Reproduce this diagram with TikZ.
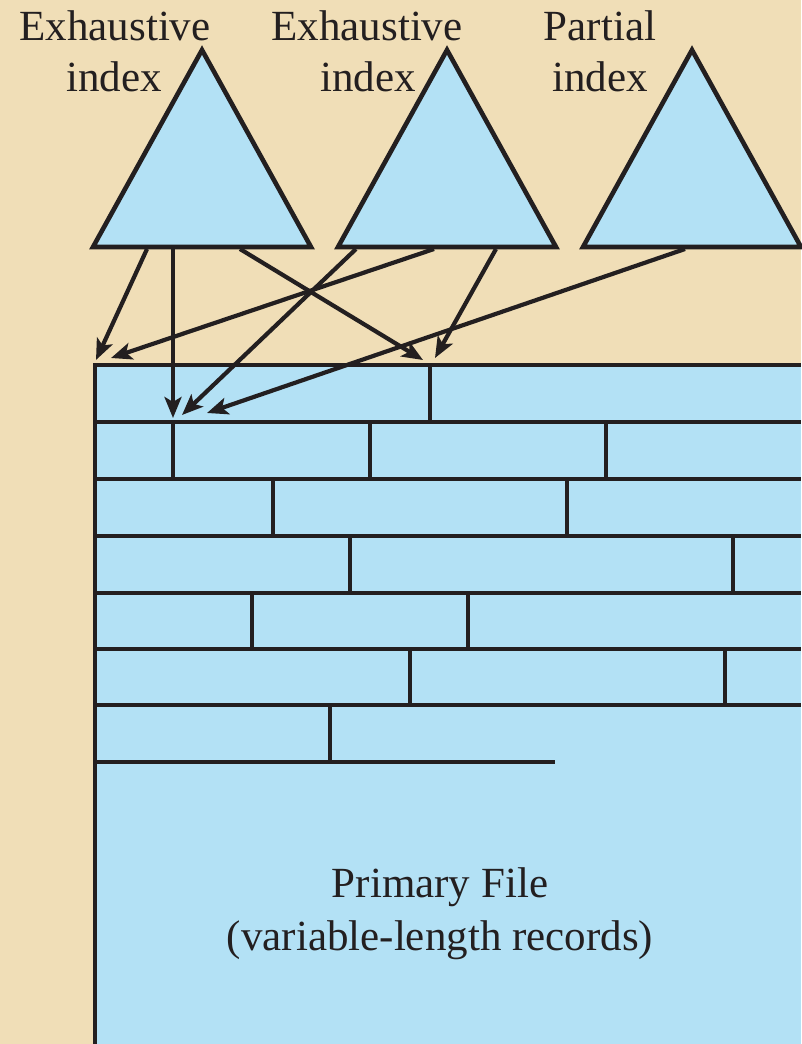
\documentclass[tikz,border=0pt]{standalone}
\usepackage{fontspec}
\setmainfont{Liberation Serif}
\newfontfamily\timesfont{Liberation Serif}
\usetikzlibrary{arrows.meta}
\definecolor{bgbeige}{HTML}{F0DEB7}
\definecolor{fileblue}{HTML}{B3E1F5}
\definecolor{inkdark}{HTML}{231F20}
\tikzset{
  ink/.style={draw=inkdark, line width=4.6pt},
  tri/.style={ink, fill=fileblue, line join=miter},
  rec/.style={ink, line cap=butt},
  ptr/.style={draw=inkdark, line width=4.2pt, -{Stealth[length=21pt,width=17pt,inset=5pt]}},
  lbl/.style={anchor=base, inner sep=0pt, text=inkdark, font=\timesfont\fontsize{43}{52}\selectfont}
}
\begin{document}
\begin{tikzpicture}[x=1pt,y=-1pt]
\useasboundingbox (0,0) rectangle (801,1044);
\fill[bgbeige] (0,0) rectangle (801,1044);

% labels
\node[lbl] (l1a) at (115,40) {Exhaustive};
\node[lbl] (l1b) at (114,91) {index};
\node[lbl] (l2a) at (367,40) {Exhaustive};
\node[lbl] (l2b) at (368,91) {index};
\node[lbl] (l3a) at (600,40) {Partial};
\node[lbl] (l3b) at (600,91) {index};

% triangles (indexes)
\draw[tri] (202,50) -- (311,247) -- (93,247) -- cycle;
\draw[tri] (447,50) -- (556,247) -- (338,247) -- cycle;
\draw[tri] (692,50) -- (801,247) -- (583,247) -- cycle;

% primary file
\fill[fileblue] (95,365) rectangle (801,1044);
\draw[rec] (95,1044) -- (95,365) -- (801,365);
\foreach \y in {422,479,536,593,649,705} \draw[rec] (95,\y) -- (801,\y);
\draw[rec] (95,762) -- (555,762);
% record dividers
\draw[rec] (430,365) -- (430,422);
\foreach \x in {173,370,606} \draw[rec] (\x,422) -- (\x,479);
\foreach \x in {273,567} \draw[rec] (\x,479) -- (\x,536);
\foreach \x in {350,733} \draw[rec] (\x,536) -- (\x,593);
\foreach \x in {252,468} \draw[rec] (\x,593) -- (\x,649);
\foreach \x in {410,725} \draw[rec] (\x,649) -- (\x,705);
\draw[rec] (330,705) -- (330,762);

\node[lbl] (pf1) at (440,897) {Primary File};
\node[lbl] (pf2) at (440,950) {(variable-length records)};

% pointer coordinates
\coordinate (s1) at (147,249);
\coordinate (s2) at (173,249);
\coordinate (s3) at (240,249);
\coordinate (s4) at (434,249);
\coordinate (s5) at (356,249);
\coordinate (s6) at (496,249);
\coordinate (s7) at (685,249);
\coordinate (e1) at (96,360);
\coordinate (e2) at (173,418);
\coordinate (e3) at (423,360);
\coordinate (e4) at (111,358);
\coordinate (e5) at (182,415);
\coordinate (e6) at (435,358);
\coordinate (e7) at (207,413);

\draw[ptr] (s1) -- (e1);
\draw[ptr] (s2) -- (e2);
\draw[ptr] (s3) -- (e3);
\draw[ptr] (s4) -- (e4);
\draw[ptr] (s5) -- (e5);
\draw[ptr] (s6) -- (e6);
\draw[ptr] (s7) -- (e7);
\end{tikzpicture}
\end{document}
